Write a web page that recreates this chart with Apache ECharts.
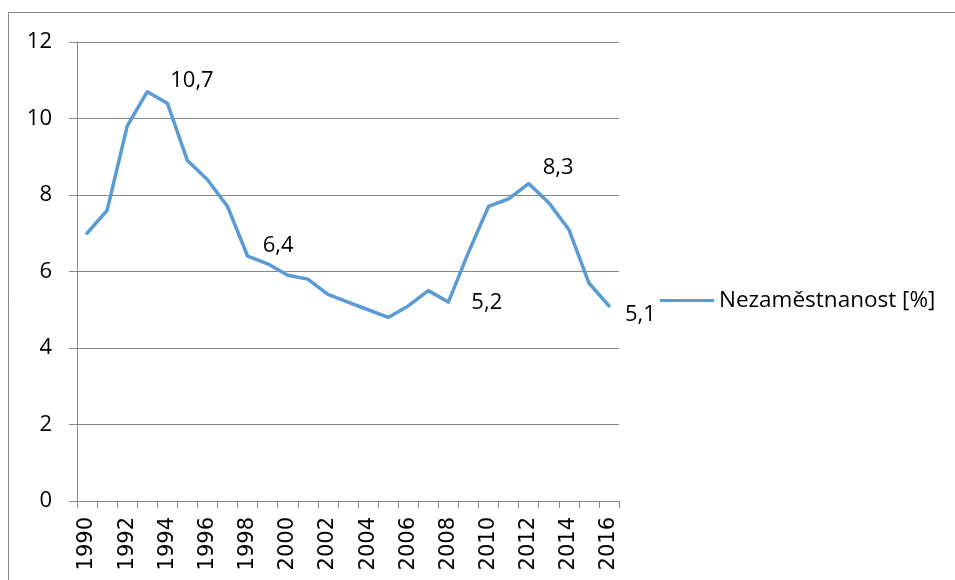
<!DOCTYPE html>
<html>
<head>
<meta charset="utf-8">
<script src="https://cdn.jsdelivr.net/npm/echarts@6/dist/echarts.min.js"></script>
<style>html,body{margin:0;padding:0;background:#fff;}#c{width:955px;height:580px;}</style>
</head>
<body>
<div id="c"></div>
<script>
var years = ['1990','1991','1992','1993','1994','1995','1996','1997','1998','1999','2000','2001','2002','2003','2004','2005','2006','2007','2008','2009','2010','2011','2012','2013','2014','2015','2016'];
var unemployment = [7.0,7.6,9.8,10.7,10.4,8.9,8.4,7.7,6.4,6.2,5.9,5.8,5.4,5.2,5.0,4.8,5.1,5.5,5.2,6.5,7.7,7.9,8.3,7.8,7.1,5.7,5.1];
var labeledYears = ['1993','1998','2008','2012','2016'];
var yTicks = [0,2,4,6,8,10,12];
var seriesName = 'Nezaměstnanost [%]';

// label placement (style only)
var labelOffsets = {'1993':[23,-11],'1998':[15,-10],'2008':[23,1],'2012':[14,-16],'2016':[16,9]};

var seriesData = unemployment.map(function(v, i){
  var y = years[i];
  var item = {value: v};
  if (labeledYears.indexOf(y) >= 0) {
    item.label = {show: true, position: 'right', distance: 0, offset: labelOffsets[y]};
  }
  return item;
});

var chart = echarts.init(document.getElementById('c'), null, {renderer:'canvas'});
chart.setOption({
  animation: false,
  backgroundColor: '#fff',
  graphic: [{
    type: 'rect', shape: {x: 8.5, y: 12.5, width: 1000, height: 700},
    style: {fill: 'none', stroke: '#878787', lineWidth: 1}, silent: true, z: 0
  }],
  grid: {left: 77, right: 336, top: 42, bottom: 79, containLabel: false},
  legend: {
    show: true, left: 660, top: 289, padding: 0, icon: 'rect', itemWidth: 54, itemHeight: 3, itemGap: 10,
    textStyle: {fontFamily: 'Open Sans', fontSize: 22.5, color: '#000'},
    data: [seriesName]
  },
  xAxis: {
    type: 'category', data: years, boundaryGap: true,
    axisLine: {lineStyle: {color: '#878787', width: 1}},
    axisTick: {show: true, interval: 0, length: 7, lineStyle: {color: '#878787'}},
    axisLabel: {interval: 1, rotate: 90, margin: 16, fontFamily: 'DejaVu Sans', fontSize: 21, color: '#000'},
    splitLine: {show: false}
  },
  yAxis: {
    type: 'value', min: yTicks[0], max: yTicks[yTicks.length-1], interval: 2,
    axisLine: {show: true, lineStyle: {color: '#878787', width: 1}},
    axisTick: {show: true, length: 8, lineStyle: {color: '#878787'}},
    axisLabel: {margin: 25, fontFamily: 'Open Sans', fontSize: 22, color: '#000'},
    splitLine: {show: true, lineStyle: {color: '#878787', width: 1}}
  },
  series: [{
    name: seriesName, type: 'line', data: seriesData,
    symbol: 'circle', symbolSize: 0, showSymbol: true,
    lineStyle: {color: '#5b9bd5', width: 3.5, join: 'round', cap: 'round'},
    itemStyle: {color: '#5b9bd5'},
    label: {show: false, fontFamily: 'Open Sans', fontSize: 22, color: '#000',
      formatter: function(p){ return String(p.value).replace('.', ','); }}
  }]
});
</script>
</body>
</html>
